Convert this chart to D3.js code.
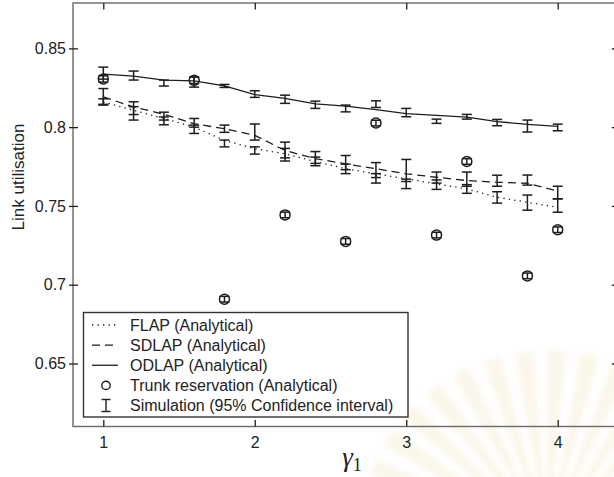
<!DOCTYPE html>
<html>
<head>
<meta charset="utf-8">
<script src="https://cdn.jsdelivr.net/npm/d3@7"></script>
<style>
  html, body { margin: 0; padding: 0; background: #fff; }
  svg { display: block; }
  text { font-family: "Liberation Sans", Arial, sans-serif; fill: #222; }
</style>
</head>
<body>
<svg id="chart" width="614" height="477"></svg>
<script>
// gamma_1 sweep
const gammaValues = [1.0, 1.2, 1.4, 1.6, 1.8, 2.0, 2.2, 2.4, 2.6, 2.8, 3.0, 3.2, 3.4, 3.6, 3.8, 4.0];

// analytical link utilisation
const flap  = [0.8160, 0.8107, 0.8055, 0.8000, 0.7916, 0.7863, 0.7831, 0.7782, 0.7736, 0.7704, 0.7672, 0.7640, 0.7608, 0.7555, 0.7523, 0.7491];
const sdlap = [0.8192, 0.8128, 0.8082, 0.8022, 0.7990, 0.7948, 0.7852, 0.7800, 0.7767, 0.7736, 0.7704, 0.7682, 0.7661, 0.7650, 0.7644, 0.7595];
const odlap = [0.8336, 0.8324, 0.8298, 0.8294, 0.8262, 0.8207, 0.8182, 0.8148, 0.8133, 0.8111, 0.8086, 0.8075, 0.8064, 0.8035, 0.8018, 0.8005];

// simulation 95% confidence intervals (low / high)
const flapSimLow   = [0.8140, 0.8080, 0.8015, 0.7960, 0.7875, 0.7829, 0.7785, 0.7755, 0.7705, 0.7645, 0.7610, 0.7605, 0.7580, 0.7518, 0.7473, 0.7460];
const flapSimHigh  = [0.8180, 0.8130, 0.8065, 0.8013, 0.7918, 0.7875, 0.7865, 0.7810, 0.7765, 0.7705, 0.7670, 0.7665, 0.7635, 0.7590, 0.7569, 0.7545];
const sdlapSimLow  = [0.8145, 0.8045, 0.8045, 0.8000, 0.7967, 0.7918, 0.7805, 0.7770, 0.7730, 0.7680, 0.7655, 0.7645, 0.7625, 0.7625, 0.7632, 0.7545];
const sdlapSimHigh = [0.8245, 0.8161, 0.8095, 0.8055, 0.8013, 0.8020, 0.7905, 0.7845, 0.7820, 0.7775, 0.7795, 0.7715, 0.7715, 0.7695, 0.7696, 0.7625];
const odlapSimLow  = [0.8305, 0.8299, 0.8261, 0.8254, 0.8252, 0.8189, 0.8151, 0.8119, 0.8097, 0.8125, 0.8066, 0.8024, 0.8051, 0.8009, 0.7969, 0.7977];
const odlapSimHigh = [0.8381, 0.8356, 0.8299, 0.8318, 0.8271, 0.8231, 0.8203, 0.8165, 0.8140, 0.8167, 0.8119, 0.8051, 0.8081, 0.8049, 0.8045, 0.8019];

// trunk reservation (analytical) and its simulation intervals
const trunkGamma   = [1.0, 1.6, 1.8, 2.2, 2.6, 2.8, 3.2, 3.4, 3.8, 4.0];
const trunk        = [0.8306, 0.8297, 0.6908, 0.7443, 0.7275, 0.8026, 0.7315, 0.7782, 0.7056, 0.7349];
const trunkSimLow  = [0.8286, 0.8277, 0.6890, 0.7425, 0.7257, 0.8008, 0.7297, 0.7764, 0.7038, 0.7331];
const trunkSimHigh = [0.8326, 0.8317, 0.6926, 0.7461, 0.7293, 0.8044, 0.7333, 0.7800, 0.7074, 0.7367];

// axes
const xTicks = [1, 2, 3, 4];
const yTicks = [0.65, 0.7, 0.75, 0.8, 0.85];
const yTickLabels = ["0.65", "0.7", "0.75", "0.8", "0.85"];

const legendLabels = [
  "FLAP (Analytical)",
  "SDLAP (Analytical)",
  "ODLAP (Analytical)",
  "Trunk reservation (Analytical)",
  "Simulation (95% Confidence interval)"
];

const svg = d3.select("#chart");
const ink = "#1e1e1e";
const frameColor = "#6a6a6a";

const x = d3.scaleLinear().domain([0.8, 4.4]).range([73, 618.3]);
const y = d3.scaleLinear().domain([0.61, 0.8788]).range([426.5, 3]);

// very faint fan-shaped emblem in the lower right corner
const defs = svg.append("defs");
defs.append("filter").attr("id", "soft")
  .attr("x", "-20%").attr("y", "-20%").attr("width", "140%").attr("height", "140%")
  .append("feGaussianBlur").attr("stdDeviation", 2.5);
const fan = svg.append("g").attr("opacity", 0.22).attr("filter", "url(#soft)");
const fanCx = 548, fanCy = 540;
d3.range(-160, -15, 10).forEach(a0 => {
  const r = 190;
  const a1 = a0 * Math.PI / 180, a2 = (a0 + 5.5) * Math.PI / 180;
  fan.append("path")
    .attr("d", `M${fanCx},${fanCy} L${fanCx + r * Math.cos(a1)},${fanCy + r * Math.sin(a1)} L${fanCx + r * Math.cos(a2)},${fanCy + r * Math.sin(a2)} Z`)
    .attr("fill", "#ecd9a4");
});

// axis frame
svg.append("rect")
  .attr("x", x.range()[0]).attr("y", y.range()[1])
  .attr("width", x.range()[1] - x.range()[0])
  .attr("height", y.range()[0] - y.range()[1])
  .attr("fill", "none").attr("stroke", frameColor).attr("stroke-width", 1.4);

function styleAxis(g) {
  g.select(".domain").remove();
  g.selectAll(".tick line").attr("stroke", ink).attr("stroke-width", 1.3);
  g.selectAll(".tick text").attr("fill", "#2a2a2a").style("font-size", "16px")
    .style("font-family", "'Liberation Sans', Arial, sans-serif");
}

// bottom axis: inward ticks
svg.append("g").attr("transform", `translate(0,${y.range()[0]})`)
  .call(d3.axisBottom(x).tickValues(xTicks).tickSizeInner(-6.5).tickSizeOuter(0).tickPadding(10).tickFormat(d3.format("d")))
  .call(styleAxis);

// top axis: inward ticks, no labels
svg.append("g").attr("transform", `translate(0,${y.range()[1]})`)
  .call(d3.axisTop(x).tickValues(xTicks).tickSizeInner(-6.5).tickSizeOuter(0).tickFormat(""))
  .call(styleAxis);

// left axis: ticks cross the frame
svg.append("g").attr("transform", `translate(${x.range()[0]},0)`)
  .call(d3.axisLeft(y).tickValues(yTicks).tickSizeInner(4).tickSizeOuter(0).tickPadding(3)
    .tickFormat((d, i) => yTickLabels[i]))
  .call(styleAxis)
  .call(g => g.selectAll(".tick line").attr("x1", 5));

// right axis: inward ticks
svg.append("g").attr("transform", `translate(${x.range()[1]},0)`)
  .call(d3.axisRight(y).tickValues(yTicks).tickSizeInner(-6.5).tickSizeOuter(0).tickFormat(""))
  .call(styleAxis);

// analytical curves
const line = d3.line().x(d => x(d[0])).y(d => y(d[1]));
const curves = [
  { values: flap,  dash: "1.3,4.2" },
  { values: sdlap, dash: "8,5" },
  { values: odlap, dash: null }
];
curves.forEach(c => {
  svg.append("path")
    .datum(gammaValues.map((g, i) => [g, c.values[i]]))
    .attr("d", line)
    .attr("fill", "none")
    .attr("stroke", ink)
    .attr("stroke-width", 1.3)
    .attr("stroke-dasharray", c.dash);
});

// simulation error bars
function errorBars(xs, lo, hi) {
  const g = svg.append("g").attr("stroke", ink).attr("stroke-width", 1.5).attr("fill", "none");
  xs.forEach((gv, i) => {
    const cx = x(gv), y1 = y(lo[i]), y2 = y(hi[i]);
    g.append("line").attr("x1", cx).attr("x2", cx).attr("y1", y1).attr("y2", y2);
    g.append("line").attr("x1", cx - 5).attr("x2", cx + 5).attr("y1", y1).attr("y2", y1);
    g.append("line").attr("x1", cx - 5).attr("x2", cx + 5).attr("y1", y2).attr("y2", y2);
  });
}
errorBars(gammaValues, flapSimLow, flapSimHigh);
errorBars(gammaValues, sdlapSimLow, sdlapSimHigh);
errorBars(gammaValues, odlapSimLow, odlapSimHigh);
errorBars(trunkGamma, trunkSimLow, trunkSimHigh);

// trunk reservation markers
svg.append("g").selectAll("circle")
  .data(trunkGamma.map((g, i) => [g, trunk[i]]))
  .join("circle")
  .attr("cx", d => x(d[0])).attr("cy", d => y(d[1]))
  .attr("r", 5)
  .attr("fill", "none").attr("stroke", ink).attr("stroke-width", 1.5);

// legend
const legend = svg.append("g");
const lgX = 83.5, lgY = 312.5, lgW = 324.5, lgH = 104.5;
legend.append("rect")
  .attr("x", lgX).attr("y", lgY).attr("width", lgW).attr("height", lgH)
  .attr("fill", "#fff").attr("stroke", "#333").attr("stroke-width", 1.4);

const rowY = d3.scaleLinear().domain([0, 4]).range([325, 405.5]);
const symX0 = 92, symX1 = 118, symCx = 106, textX = 130;

[curves[0], curves[1], curves[2]].forEach((c, i) => {
  legend.append("line")
    .attr("x1", symX0).attr("x2", symX1)
    .attr("y1", rowY(i)).attr("y2", rowY(i))
    .attr("stroke", ink).attr("stroke-width", 1.3)
    .attr("stroke-dasharray", c.dash);
});
legend.append("circle")
  .attr("cx", symCx).attr("cy", rowY(3)).attr("r", 4.2)
  .attr("fill", "none").attr("stroke", ink).attr("stroke-width", 1.4);
{
  const cy = rowY(4), h = 6;
  const g = legend.append("g").attr("stroke", ink).attr("stroke-width", 1.4);
  g.append("line").attr("x1", symCx).attr("x2", symCx).attr("y1", cy - h).attr("y2", cy + h);
  g.append("line").attr("x1", symCx - 4.5).attr("x2", symCx + 4.5).attr("y1", cy - h).attr("y2", cy - h);
  g.append("line").attr("x1", symCx - 4.5).attr("x2", symCx + 4.5).attr("y1", cy + h).attr("y2", cy + h);
}
legendLabels.forEach((t, i) => {
  legend.append("text")
    .attr("x", textX).attr("y", rowY(i))
    .attr("dy", "0.36em")
    .style("font-size", "16px")
    .text(t);
});

// axis titles
svg.append("text")
  .attr("transform", `translate(24,177) rotate(-90)`)
  .attr("text-anchor", "middle")
  .style("font-size", "17px")
  .text("Link utilisation");

const xTitle = svg.append("text")
  .attr("x", 352).attr("y", 466)
  .attr("text-anchor", "middle")
  .style("font-family", "'Liberation Serif', 'Times New Roman', serif");
xTitle.append("tspan").style("font-style", "italic").style("font-size", "27px").text("γ");
xTitle.append("tspan").attr("dy", 5).style("font-size", "18px").text("1");
</script>
</body>
</html>
